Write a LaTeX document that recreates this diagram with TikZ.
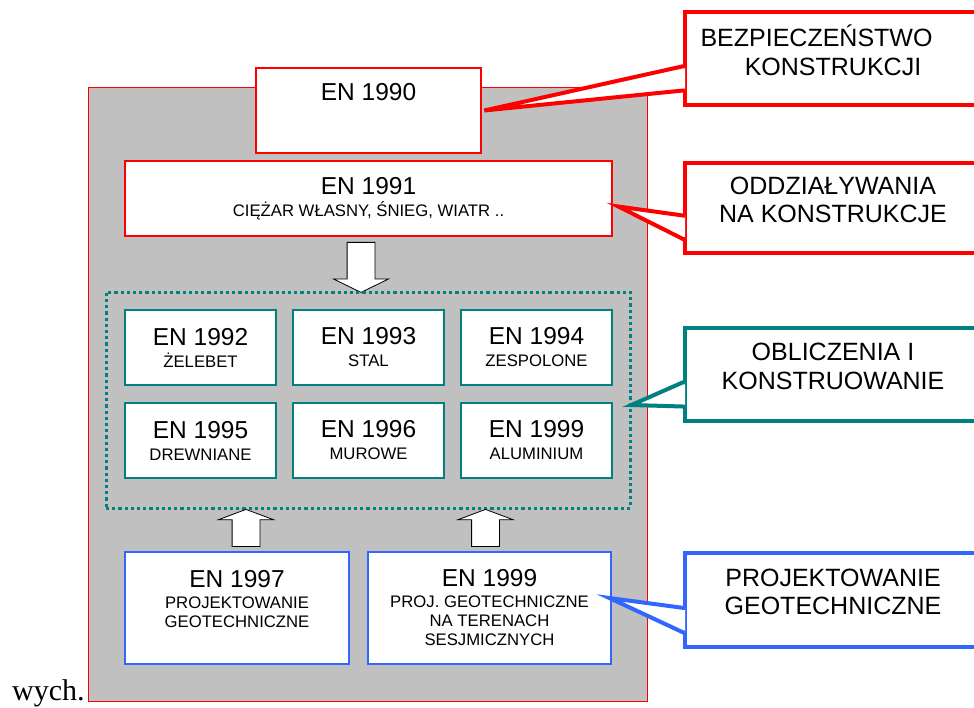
\documentclass[tikz,border=0pt]{standalone}
\usepackage{fontspec}
\setmainfont{Liberation Sans}
\newfontfamily\timesfont{Liberation Serif}
\usetikzlibrary{calc,shapes.arrows}

\definecolor{panelgray}{RGB}{192,192,192}
\definecolor{normteal}{RGB}{0,128,128}
\definecolor{normblue}{RGB}{51,102,255}
\newcommand{\bigen}{\fontsize{24.5}{22}\selectfont}
\newcommand{\smallen}{\fontsize{16.7}{22}\selectfont}

\begin{document}
\begin{tikzpicture}[x=1pt, y=-1pt,
  box/.style={draw, fill=white, line width=2.6pt, align=center, font=\smallen},
  redbox/.style={box, draw=red},
  tealbox/.style={box, draw=normteal, minimum width=151pt, minimum height=75pt},
  bluebox/.style={box, draw=normblue, minimum height=112pt, font=\fontsize{16.7}{19}\selectfont},
  hollow/.style={single arrow, draw=black, fill=white, line width=0.8pt,
    inner xsep=0pt, inner ysep=13.5pt, single arrow head extend=13.5pt},
  callbox/.style={draw=#1, fill=white, line width=4pt, minimum width=296pt},
  callpointer/.style={draw=#1, fill=white, line width=4pt, line join=miter},
  calltext/.style={align=center, font=\fontsize{25}{28.5}\selectfont}]

\useasboundingbox (0,0) rectangle (974,707);

% szare tlo
\node[fill=panelgray, draw=red, line width=0.8pt, minimum width=559pt, minimum height=614pt] (panel) at (367.5,394) {};

\node[redbox, minimum width=225pt, minimum height=85pt, font=\bigen, text depth=37.8pt] (en1990) at (368.5,110.5) {EN 1990};
\node[redbox, minimum width=487pt, minimum height=75pt] (en1991) at (368.5,198.5) {{\bigen EN 1991}\\CIĘŻAR WŁASNY, ŚNIEG, WIATR ..};

\node[hollow, rotate=-90, minimum height=50pt, single arrow tip angle=128] (arr1991) at (361,264) {};

% obliczenia
\node[draw=normteal, line width=3pt, dash pattern=on 3.2pt off 3pt, minimum width=524pt, minimum height=216pt] (grid) at (368,400) {};

\foreach \num/\sub [count=\i from 0] in {1992/ŻELEBET, 1993/STAL, 1994/ZESPOLONE, 1995/DREWNIANE, 1996/MUROWE, 1999/ALUMINIUM}{
  \pgfmathtruncatemacro{\col}{mod(\i,3)}
  \pgfmathtruncatemacro{\row}{\i/3}
  \node[tealbox] (en\num) at (200.5+168*\col, 347.5+93*\row) {{\bigen EN \num}\\\sub};
}

\node[hollow, rotate=90, minimum height=37pt, single arrow tip angle=139] (arr1997) at (246,530.5) {};
\node[hollow, rotate=90, minimum height=37pt, single arrow tip angle=139] (arr1999) at (485.5,530.5) {};

% geotechnika
\node[bluebox, minimum width=224pt] (en1997) at (237,608) {{\bigen EN 1997}\\[2pt]PROJEKTOWANIE\\GEOTECHNICZNE\\~};
\node[bluebox, minimum width=243pt] (en1999geo) at (489.5,608) {{\bigen EN 1999}\\[2pt]PROJ. GEOTECHNICZNE\\NA TERENACH\\SESJMICZNYCH};

% objasnienia
\coordinate (tip-bezp) at ([xshift=2pt]en1990.east);
\coordinate (tip-oddz) at ([shift={(5pt,-8pt)}]en1991.east);
\coordinate (tip-oblicz) at ([yshift=-5pt]grid.east);
\coordinate (tip-proj) at ([shift={(-3pt,10pt)}]en1999geo.east);

\foreach \name/\y/\h/\col/\txt in {bezp/58.5/93/red/{BEZPIECZEŃSTWO\kern33pt\\KONSTRUKCJI},
    oddz/208/90/red/{ODDZIAŁYWANIA\\NA KONSTRUKCJE},
    oblicz/374.5/93/normteal/{OBLICZENIA I\\KONSTRUOWANIE},
    proj/600/94/normblue/{PROJEKTOWANIE\\GEOTECHNICZNE}}{
  \node[callbox=\col, minimum height={\h pt}] (\name) at (833,\y) {};
  \filldraw[callpointer=\col] ($(\name.north west)!0.58!(\name.south west)+(2pt,0)$)
    -- ($(\name.north west)!0.58!(\name.south west)$) -- (tip-\name)
    -- ($(\name.north west)!0.83!(\name.south west)$)
    -- ($(\name.north west)!0.83!(\name.south west)+(2pt,0)$);
  \node[calltext] (\name-text) at ([yshift=8pt]\name.center) {\txt};
}

\node[anchor=base west, inner sep=0pt, font=\timesfont\fontsize{30}{30}\selectfont] (wych) at (12,700) {wych.};
\end{tikzpicture}
\end{document}
